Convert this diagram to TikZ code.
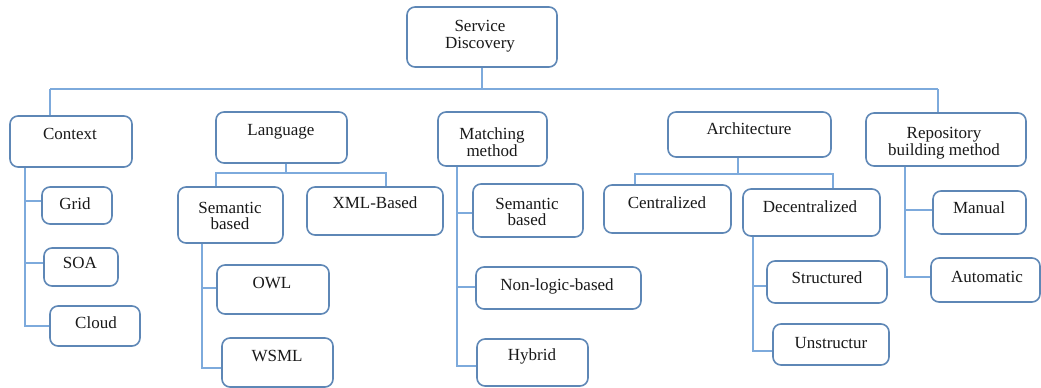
\documentclass[tikz,border=0pt]{standalone}
\usepackage{fontspec}
\setmainfont{Liberation Serif}
\definecolor{boxline}{RGB}{94,135,182}
\definecolor{linkline}{RGB}{125,170,220}
\definecolor{txt}{RGB}{25,25,25}
\tikzset{
  taxbox/.style={draw=boxline, line width=1.6pt, rounded corners=8pt, fill=white, inner sep=0pt},
  lbl/.style={font=\fontsize{17}{16.5}\selectfont, text=txt, inner sep=0pt, align=center},
  lblone/.style={lbl, text height=11.2pt, text depth=0pt},
  conn/.style={draw=linkline, line width=1.6pt}
}
% box from (x1,y1) to (x2,y2), in pixel-like units
\newcommand{\taxbox}[5]{%
  \node[taxbox, minimum width={#4-#2}, minimum height={#5-#3}] (#1) at ({(#2+#4)/2},{(#3+#5)/2}) {};}
\begin{document}
\begin{tikzpicture}[x=1pt,y=-1pt]
\useasboundingbox (0,0) rectangle (1041,388);

% ---- boxes ----
\taxbox{sd}{407}{7}{557}{67}
\taxbox{ctx}{10}{116}{132}{167}
\taxbox{lang}{216}{112}{347}{163}
\taxbox{match}{438}{112}{547}{166}
\taxbox{arch}{668}{112}{831}{157}
\taxbox{repo}{866}{113}{1026}{166}
\taxbox{grid}{42}{187}{112}{224}
\taxbox{soa}{44}{248}{118}{286}
\taxbox{cloud}{50}{306}{140}{346}
\taxbox{lsem}{178}{187}{283}{243}
\taxbox{xml}{307}{187}{443}{235}
\taxbox{owl}{217}{265}{329}{314}
\taxbox{wsml}{222}{338}{333}{387}
\taxbox{msem}{473}{184}{583}{237}
\taxbox{nonlog}{476}{267}{641}{309}
\taxbox{hybrid}{477}{339}{588}{386}
\taxbox{central}{604}{185}{731}{233}
\taxbox{decentral}{743}{189}{880}{236}
\taxbox{struct}{767}{261}{887}{303}
\taxbox{unstruct}{773}{324}{889}{365}
\taxbox{manual}{933}{191}{1026}{234}
\taxbox{auto}{931}{258}{1040}{302}

% ---- texts ----
\node[lbl] (sdT) at (480,36) {Service\\Discovery};
\node[lblone] (ctxT) at (70,133.5) {Context};
\node[lblone] (langT) at (281,130) {Language};
\node[lbl] (matchT) at (492,142) {Matching\\method};
\node[lblone] (archT) at (749,129) {Architecture};
\node[lbl] (repoT) at (944,143) {Repository\\building method};
\node[lblone] (gridT) at (75,204) {Grid};
\node[lblone] (soaT) at (80,263) {SOA};
\node[lblone] (cloudT) at (96,323) {Cloud};
\node[lbl] (lsemT) at (230,216) {Semantic\\based};
\node[lblone] (xmlT) at (375,203) {XML-Based};
\node[lblone] (owlT) at (272,283) {OWL};
\node[lblone] (wsmlT) at (277,356) {WSML};
\node[lbl] (msemT) at (527,212) {Semantic\\based};
\node[lblone] (nonlogT) at (557,285) {Non-logic-based};
\node[lblone] (hybridT) at (532,355) {Hybrid};
\node[lblone] (centralT) at (667,203) {Centralized};
\node[lblone] (decentralT) at (810,207) {Decentralized};
\node[lblone] (structT) at (827,278) {Structured};
\node[lblone] (unstructT) at (831,343) {Unstructur};
\node[lblone] (manualT) at (979,208) {Manual};
\node[lblone] (autoT) at (987,277) {Automatic};

% ---- top-level bus ----
\coordinate (busL) at (50,89);
\coordinate (busR) at (938,89);
\draw[conn] (sd.south) -- (sd.south |- busL);
\draw[conn] (busL) -- (busR);
\draw[conn] (busL) -- (busL |- ctx.north);
\draw[conn] (busR) -- (busR |- repo.north);

% ---- Context branch ----
\coordinate (ctxS) at (25,0);
\draw[conn] (ctxS |- ctx.south) -- (ctxS |- cloud.west) -- (cloud.west);
\draw[conn] (ctxS |- 0,201) -- (grid.west |- 0,201);
\draw[conn] (ctxS |- 0,263) -- (soa.west |- 0,263);

% ---- Language branch ----
\coordinate (langL) at (216,173);
\coordinate (langR) at (386,173);
\draw[conn] (lang.south -| 286,0) -- (langL -| 286,0);
\draw[conn] (langL |- lsem.north) -- (langL) -- (langR) -- (langR |- xml.north);
\coordinate (lsemS) at (202,0);
\draw[conn] (lsemS |- lsem.south) -- (lsemS |- 0,368) -- (wsml.west |- 0,368);
\draw[conn] (lsemS |- 0,288) -- (owl.west |- 0,288);

% ---- Matching method branch ----
\coordinate (matchS) at (457,0);
\draw[conn] (matchS |- match.south) -- (matchS |- 0,366) -- (hybrid.west |- 0,366);
\draw[conn] (matchS |- 0,213) -- (msem.west |- 0,213);
\draw[conn] (matchS |- 0,287) -- (nonlog.west |- 0,287);

% ---- Architecture branch ----
\coordinate (archL) at (635,174);
\coordinate (archR) at (833,174);
\draw[conn] (arch.south -| 738,0) -- (archL -| 738,0);
\draw[conn] (archL |- central.north) -- (archL) -- (archR) -- (archR |- decentral.north);
\coordinate (decS) at (753,0);
\draw[conn] (decS |- decentral.south) -- (decS |- 0,351) -- (unstruct.west |- 0,351);
\draw[conn] (decS |- 0,286) -- (struct.west |- 0,286);

% ---- Repository branch ----
\coordinate (repoS) at (905,0);
\draw[conn] (repoS |- repo.south) -- (repoS |- 0,277) -- (auto.west |- 0,277);
\draw[conn] (repoS |- 0,210) -- (manual.west |- 0,210);
\end{tikzpicture}
\end{document}
